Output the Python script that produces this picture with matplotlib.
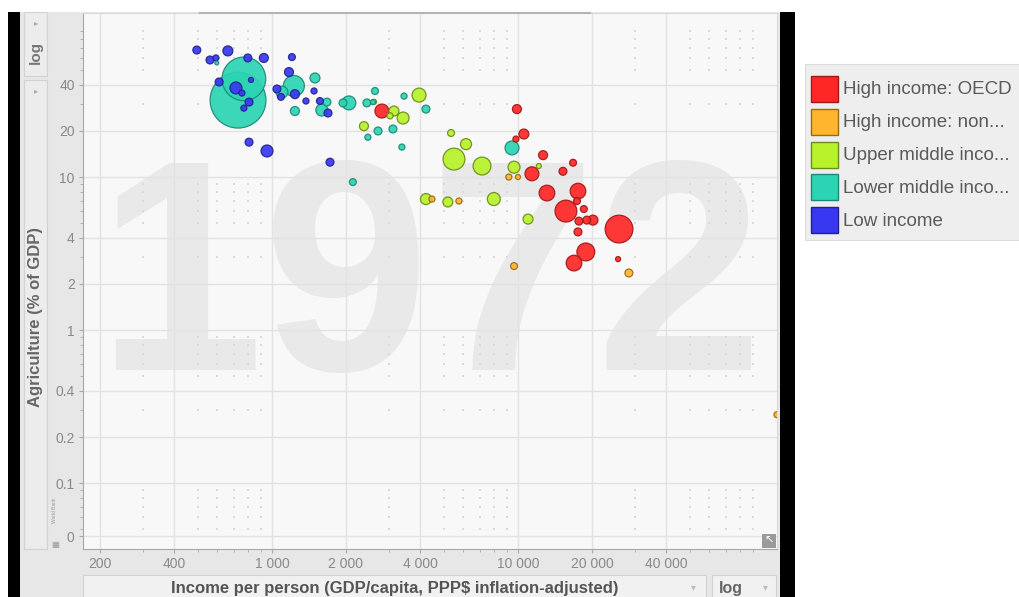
import numpy as np
import matplotlib
matplotlib.use("Agg")
import matplotlib.pyplot as plt
from matplotlib.patches import Rectangle

# ---- data: income per person (PPP$), agriculture share (% of GDP), population (millions)
low_x = [495, 560, 592, 662, 798, 927, 1206, 1173, 1483, 1375, 1048, 1088, 1240,
         1567, 1690, 610, 714, 755, 822, 807, 769, 807, 955, 1722]
low_y = [67.6, 58.2, 60, 66.7, 60, 60, 60.8, 48.5, 36.5, 31.4, 37.6, 33.4, 34.8,
         31.4, 26.2, 41.8, 38.2, 35.4, 43.1, 30.9, 28.2, 16.9, 14.8, 12.5]
low_pop = [17, 17, 10, 27, 17, 22, 13, 22, 10, 10, 17, 13, 22,
           13, 17, 17, 39, 10, 7, 17, 10, 17, 39, 17]

lmid_x = [728, 769, 1228, 1098, 1496, 1240, 1595, 1674, 2055, 1945, 2432, 2624,
          2575, 2700, 2455, 3104, 3375, 3443, 4227, 2133, 9460, 597]
lmid_y = [31.8, 43.8, 39.4, 35.9, 44.4, 27.0, 27.4, 30.9, 30.5, 30.5, 30.5, 36.5,
          30.9, 20.0, 18.2, 20.6, 15.7, 33.8, 27.8, 9.27, 15.5, 55.6]
lmid_pop = [850, 520, 120, 39, 27, 22, 39, 17, 53, 17, 17, 13,
            7, 17, 10, 17, 10, 10, 17, 13, 53, 4]

umid_x = [3133, 3020, 3413, 3962, 2366, 2600, 5346, 6151, 5495, 7145, 9640, 12160,
          4227, 5188, 7980, 10990]
umid_y = [27.0, 25.1, 24.3, 34.3, 21.5, 31.0, 19.4, 16.4, 13.1, 11.8, 11.6, 11.8,
          7.18, 6.87, 7.18, 5.31]
umid_pop = [27, 10, 39, 53, 22, 7, 13, 33, 130, 87, 39, 7, 33, 27, 46, 27]

hnon_x = [9183, 10000, 4470, 5754, 9640, 28250, 113000]
hnon_y = [10, 10, 7.18, 6.97, 2.62, 2.36, 0.28]
hnon_pop = [10, 7, 10, 10, 13, 17, 10]

oecd_x = [2799, 9907, 10570, 9813, 12650, 16750, 15240, 11400, 13120, 17540, 17380,
          15670, 18530, 17700, 20180, 19050, 17540, 25760, 18880, 16900, 25530]
oecd_y = [27.0, 27.8, 19.1, 17.7, 13.9, 12.4, 10.9, 10.5, 7.86, 8.09, 6.97,
          5.99, 6.18, 5.15, 5.23, 5.23, 4.38, 4.57, 3.24, 2.74, 2.91]
oecd_pop = [53, 22, 27, 10, 22, 13, 17, 53, 67, 67, 13,
            130, 13, 17, 27, 17, 17, 210, 87, 67, 7]

group_names = ["High income: OECD", "High income: non...", "Upper middle inco...",
               "Lower middle inco...", "Low income"]
group_fill = ["#ff2626", "#ffb52e", "#b8f22a", "#2cd4b4", "#3838f2"]
group_edge = ["#a01818", "#9a6a10", "#6a8c18", "#1a8a74", "#22228f"]

year_label = "1972"
x_ticks = [200, 400, 1000, 2000, 4000, 10000, 20000, 40000]
x_tick_labels = ["200", "400", "1 000", "2 000", "4 000", "10 000", "20 000", "40 000"]
y_ticks = [0.045, 0.1, 0.2, 0.4, 1, 2, 4, 10, 20, 40]
y_tick_labels = ["0", "0.1", "0.2", "0.4", "1", "2", "4", "10", "20", "40"]
x_minor = [300, 500, 600, 700, 800, 900, 3000, 5000, 6000, 7000, 8000, 9000,
           30000, 50000, 60000, 70000, 80000, 90000]
y_minor = [50, 60, 70, 80, 90, 30, 5, 6, 7, 8, 9, 3, 0.5, 0.6, 0.7, 0.8, 0.9, 0.3,
           0.05, 0.06, 0.07, 0.08, 0.09]

FONT = ["Liberation Sans", "DejaVu Sans"]
plt.rcParams["font.family"] = FONT

W, H = 1019, 597
fig = plt.figure(figsize=(W / 100, H / 100), dpi=100)
fig.patch.set_facecolor("white")


def box(x0, y0, x1, y1, fc, ec="none", lw=0.0, z=-5):
    fig.add_artist(Rectangle((x0 / W, 1 - y1 / H), (x1 - x0) / W, (y1 - y0) / H,
                             transform=fig.transFigure, facecolor=fc, edgecolor=ec,
                             linewidth=lw, zorder=z))


def ftext(x, y, s, **kw):
    fig.text(x / W, 1 - y / H, s, **kw)


# surrounding frame of the viewer
box(8, 12, 20, 597, "black")
box(780, 12, 795, 597, "black")
box(20, 12, 780, 597, "#e7e7e7")
box(24, 12, 47, 76, "#ececec", "#d2d2d2", 0.8, z=-4)
box(24, 80, 47, 549, "#ececec", "#d2d2d2", 0.8, z=-4)
box(83, 575, 706, 600, "#f1f1f1", "#d2d2d2", 0.8, z=-4)
box(712, 575, 776, 600, "#f1f1f1", "#d2d2d2", 0.8, z=-4)

ftext(36, 24, "\u25B8", fontsize=6, color="#aaaaaa", ha="center", va="center")
ftext(36, 92, "\u25B8", fontsize=6, color="#aaaaaa", ha="center", va="center")
ftext(36, 52, "log", fontsize=11, fontweight="bold", color="#777777",
      rotation=90, ha="center", va="center")
ftext(36, 317, "Agriculture (% of GDP)", fontsize=12, fontweight="bold",
      color="#666666", rotation=90, ha="center", va="center")
ftext(395, 588, "Income per person (GDP/capita, PPP$ inflation-adjusted)",
      fontsize=12, fontweight="bold", color="#555555", ha="center", va="center")
ftext(693, 587, "\u25BE", fontsize=7, color="#bbbbbb", ha="center", va="center")
ftext(731, 588, "log", fontsize=11.5, fontweight="bold", color="#666666",
      ha="center", va="center")
ftext(765, 587, "\u25BE", fontsize=7, color="#bbbbbb", ha="center", va="center")
ftext(54, 510, "World Bank", fontsize=3.5, color="#999999", rotation=90,
      ha="center", va="center")
ftext(55, 545, "\u25A6", fontsize=6, color="#999999", ha="center", va="center",
      family=["DejaVu Sans"])

# ---- plot area
ax = fig.add_axes([83 / W, 1 - 549 / H, (777 - 83) / W, (549 - 13) / H])
ax.set_facecolor("#f8f8f8")
ax.set_xscale("log")
ax.set_yscale("log")
ax.set_xlim(170.6, 113000)
ax.set_ylim(0.0371, 118)

ax.set_xticks(x_ticks)
ax.set_xticklabels(x_tick_labels)
ax.set_yticks(y_ticks)
ax.set_yticklabels(y_tick_labels)
ax.xaxis.set_minor_locator(matplotlib.ticker.FixedLocator(x_minor))
ax.yaxis.set_minor_locator(matplotlib.ticker.FixedLocator(y_minor))
ax.xaxis.set_minor_formatter(matplotlib.ticker.NullFormatter())
ax.yaxis.set_minor_formatter(matplotlib.ticker.NullFormatter())
ax.tick_params(which="major", length=3, color="#aaaaaa", labelsize=10,
               labelcolor="#8a8a8a", pad=3)
ax.tick_params(which="minor", length=2, color="#aaaaaa")
ax.grid(True, which="major", color="#e2e2e2", linewidth=1.0, zorder=1)
ax.set_axisbelow(True)
for side in ("left", "bottom"):
    ax.spines[side].set_color("#a8a8a8")
for side in ("top", "right"):
    ax.spines[side].set_color("#d8d8d8")

# faint dot lattice at minor tick crossings
gx, gy = np.meshgrid(x_minor, y_minor)
ax.scatter(gx.ravel(), gy.ravel(), s=1.2, marker="s", color="#dadada",
           linewidths=0, zorder=1)

# year watermark
ax.text(430 / W, 1 - 370 / H, year_label, transform=fig.transFigure,
        fontsize=216, fontweight="bold", color="#e9e9e9", ha="center",
        va="baseline", zorder=0.5)

# bubbles: area proportional to population, largest drawn first
xs = [oecd_x, hnon_x, umid_x, lmid_x, low_x]
ys = [oecd_y, hnon_y, umid_y, lmid_y, low_y]
ps = [oecd_pop, hnon_pop, umid_pop, lmid_pop, low_pop]
px_all, py_all, pp_all, fc_all, ec_all = [], [], [], [], []
for gxv, gyv, gpv, fc, ec in zip(xs, ys, ps, group_fill, group_edge):
    px_all += gxv
    py_all += gyv
    pp_all += gpv
    fc_all += [fc] * len(gxv)
    ec_all += [ec] * len(gxv)
order = np.argsort(pp_all)[::-1]
sizes = np.array(pp_all, dtype=float) * 1.9
ax.scatter(np.array(px_all)[order], np.array(py_all)[order], s=sizes[order],
           c=np.array(fc_all)[order], edgecolors=np.array(ec_all)[order],
           linewidths=0.9, alpha=0.92, zorder=3)

# small resize handle in the corner
box(762, 534, 776, 548, "#9a9a9a", z=5)
ftext(769, 541, "\u2196", fontsize=8, color="white", ha="center", va="center",
      family=["DejaVu Sans"], zorder=6)

# slider marker on the top edge
fig.add_artist(plt.Line2D([200 / W, 590 / W], [1 - 13 / H, 1 - 13 / H],
                          transform=fig.transFigure, color="#b5b5b5", lw=1.5, zorder=4))

# ---- legend panel
box(805, 64, 1025, 240, "#eeeeee", "#dcdcdc", 0.8, z=-4)
for i, (name, fc, ec) in enumerate(zip(group_names, group_fill, group_edge)):
    cy = 89 + i * 32.8
    box(811, cy - 13, 838, cy + 13, fc, ec, 1.0, z=2)
    ftext(843, cy + 1, name, fontsize=13.5, color="#5a5a5a", ha="left", va="center")

fig.savefig("out.png", dpi=100)
